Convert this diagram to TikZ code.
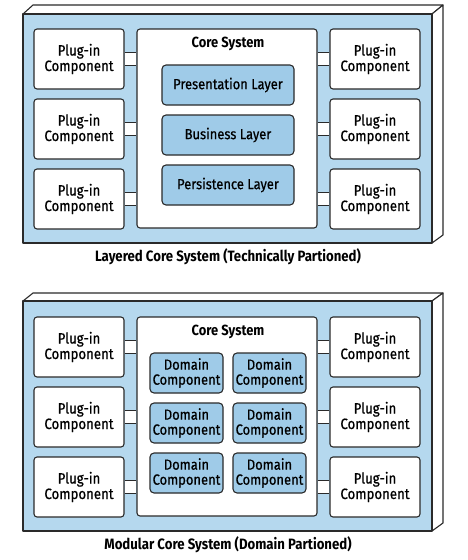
\documentclass[tikz,border=0pt]{standalone}
\usepackage{fontspec}
\setmainfont{Fira Sans}[FakeStretch=0.88, FakeBold=0.6]
\newfontfamily\capfont{Fira Sans}[FakeStretch=0.88]
\usetikzlibrary{calc}
\definecolor{frontblue}{HTML}{B5D8EE}
\definecolor{layerblue}{HTML}{9FCBE8}
\definecolor{linec}{HTML}{2A2A2A}
\tikzset{
  lw/.style={line width=1.1pt, draw=linec, line join=round},
  face/.style={lw, fill=frontblue},
  sideface/.style={lw, fill=white},
  plug/.style={lw, fill=white, rounded corners=3pt, minimum width=90pt, minimum height=60pt, inner sep=0pt, align=center, font=\fontsize{15}{15.5}\selectfont},
  core/.style={lw, fill=white, rounded corners=3pt, minimum width=180pt, minimum height=199pt, inner sep=0pt},
  layerbox/.style={lw, fill=layerblue, rounded corners=4pt, minimum width=132pt, minimum height=40pt, inner sep=0pt, font=\fontsize{14.7}{15}\selectfont},
  dombox/.style={lw, fill=layerblue, rounded corners=4pt, minimum width=73pt, minimum height=40pt, inner sep=0pt, align=center, font=\fontsize{14.7}{15}\selectfont},
  coretitle/.style={font=\capfont\bfseries\fontsize{14.7}{15}\selectfont, inner sep=0pt},
  caption/.style={font=\capfont\bfseries\fontsize{15}{15}\selectfont, inner sep=0pt},
}
\newcommand{\connector}[2]{%
  \fill[white] ($(#1.east)+(0,-6.5)$) rectangle ($(#2.west |- #1.east)+(0,6.5)$);
  \draw[lw] ($(#1.east)+(0,-6.5)$) -- ($(#2.west |- #1.east)+(0,-6.5)$);
  \draw[lw] ($(#1.east)+(0,6.5)$) -- ($(#2.west |- #1.east)+(0,6.5)$);
}
\newcommand{\connectorR}[2]{%
  \fill[white] ($(#1.east |- #2.west)+(0,-6.5)$) rectangle ($(#2.west)+(0,6.5)$);
  \draw[lw] ($(#1.east |- #2.west)+(0,-6.5)$) -- ($(#2.west)+(0,-6.5)$);
  \draw[lw] ($(#1.east |- #2.west)+(0,6.5)$) -- ($(#2.west)+(0,6.5)$);
}
\begin{document}
\begin{tikzpicture}[x=1pt,y=-1pt]
\useasboundingbox[fill=white] (0,0) rectangle (468,560);
% ---------- top diagram ----------
\draw[sideface] (23,14) -- (33,5) -- (443,5) -- (432,14) -- cycle;
\draw[sideface] (432,14) -- (443,5) -- (443,235) -- (432,243) -- cycle;
\draw[face] (23,14) rectangle (432,243);
\node[plug] (pl1) at (79,59) {Plug-in\\Component};
\node[plug] (pl2) at (79,129) {Plug-in\\Component};
\node[plug] (pl3) at (79,199) {Plug-in\\Component};
\node[plug] (pr1) at (375,59) {Plug-in\\Component};
\node[plug] (pr2) at (375,129) {Plug-in\\Component};
\node[plug] (pr3) at (375,199) {Plug-in\\Component};
\node[core] (core1) at (227,128.5) {};
\node[coretitle] (ct1) at (228,44) {Core System};
\node[layerbox] (pres) at (228,85) {Presentation Layer};
\node[layerbox] (bus) at (228,135) {Business Layer};
\node[layerbox] (pers) at (228,185) {Persistence Layer};
\connector{pl1}{core1}
\connector{pl2}{core1}
\connector{pl3}{core1}
\connectorR{core1}{pr1}
\connectorR{core1}{pr2}
\connectorR{core1}{pr3}
\node[caption] (cap1) at (228,257) {Layered Core System (Technically Partioned)};
% ---------- bottom diagram ----------
\draw[sideface] (23,301) -- (33,293) -- (443,293) -- (432,301) -- cycle;
\draw[sideface] (432,301) -- (443,293) -- (443,523) -- (432,531) -- cycle;
\draw[face] (23,301) rectangle (432,531);
\node[plug] (ql1) at (79,347) {Plug-in\\Component};
\node[plug] (ql2) at (79,417) {Plug-in\\Component};
\node[plug] (ql3) at (79,487) {Plug-in\\Component};
\node[plug] (qr1) at (375,347) {Plug-in\\Component};
\node[plug] (qr2) at (375,417) {Plug-in\\Component};
\node[plug] (qr3) at (375,487) {Plug-in\\Component};
\node[core] (core2) at (227,416.5) {};
\node[coretitle] (ct2) at (228,332) {Core System};
\node[dombox] (d11) at (186.5,373) {Domain\\Component};
\node[dombox] (d12) at (269.5,373) {Domain\\Component};
\node[dombox] (d21) at (186.5,423) {Domain\\Component};
\node[dombox] (d22) at (269.5,423) {Domain\\Component};
\node[dombox] (d31) at (186.5,473) {Domain\\Component};
\node[dombox] (d32) at (269.5,473) {Domain\\Component};
\connector{ql1}{core2}
\connector{ql2}{core2}
\connector{ql3}{core2}
\connectorR{core2}{qr1}
\connectorR{core2}{qr2}
\connectorR{core2}{qr3}
\node[caption] (cap2) at (228,545) {Modular Core System (Domain Partioned)};
\end{tikzpicture}
\end{document}
